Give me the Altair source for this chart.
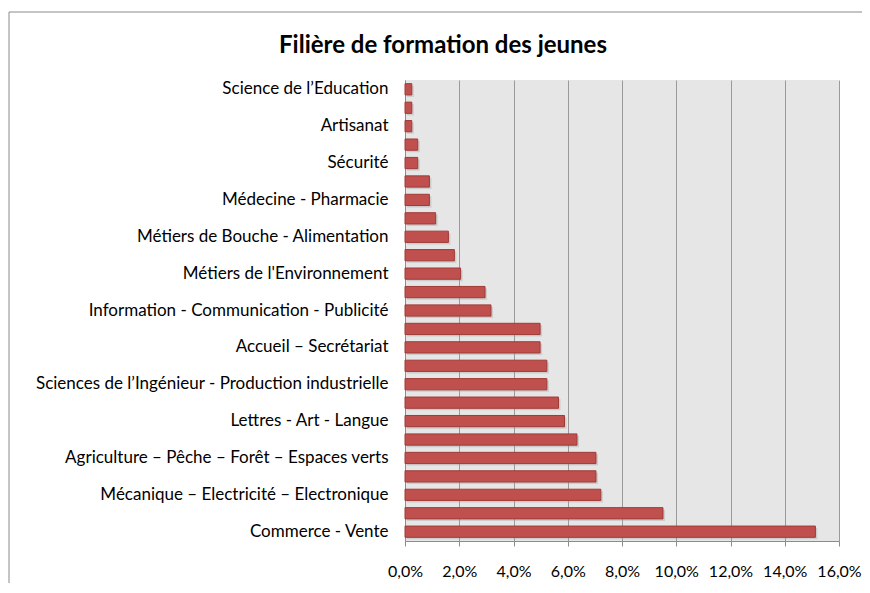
import json
import altair as alt
import pandas as pd

title_text = "Filière de formation des jeunes"
categories = [
    "Science de l’Education",
    "Droit - Sciences politiques",
    "Artisanat",
    "Transport - Logistique",
    "Sécurité",
    "Sport - Animation",
    "Médecine - Pharmacie",
    "Tourisme - Hôtellerie",
    "Métiers de Bouche - Alimentation",
    "BTP - Architecture",
    "Métiers de l'Environnement",
    "Santé - Social",
    "Information - Communication - Publicité",
    "Banque - Assurance",
    "Accueil – Secrétariat",
    "Informatique",
    "Sciences de l’Ingénieur - Production industrielle",
    "Gestion - Comptabilité",
    "Lettres - Art - Langue",
    "Economie - Droit",
    "Agriculture – Pêche – Forêt – Espaces verts",
    "Mode - Textile",
    "Mécanique – Electricité – Electronique",
    "Autres filières",
    "Commerce - Vente",
]
values = [0.25, 0.25, 0.25, 0.47, 0.47, 0.90, 0.90, 1.13, 1.60, 1.82, 2.05, 2.95,
          3.17, 4.98, 4.98, 5.23, 5.23, 5.66, 5.88, 6.34, 7.04, 7.04, 7.22, 9.51, 15.13]
shown_labels = categories[0::2]
x_ticks = [0, 2, 4, 6, 8, 10, 12, 14, 16]

df = pd.DataFrame({"cat": categories, "val": values})

FONT = "Lato"
label_expr = "indexof(" + json.dumps(shown_labels, ensure_ascii=False) + ", datum.value) >= 0 ? datum.value : ''"

y_enc = alt.Y(
    "cat:N",
    sort=categories,
    title=None,
    scale=alt.Scale(paddingInner=0.39, paddingOuter=0.2),
    axis=alt.Axis(
        labelExpr=label_expr,
        ticks=False,
        labelPadding=17,
        labelFont=FONT,
        labelFontSize=17,
        labelColor="#000000",
        domainColor="#8c8c8c",
        labelLimit=500,
        labelOverlap=False,
        grid=False,
    ),
)
x_enc = alt.X(
    "val:Q",
    title=None,
    scale=alt.Scale(domain=[0, 16], nice=False),
    axis=alt.Axis(
        values=x_ticks,
        labelExpr="replace(format(datum.value, '.1f'), '.', ',') + '%'",
        labelFont=FONT,
        labelFontSize=16,
        labelColor="#000000",
        labelOverlap=False,
        labelFlush=False,
        tickSize=5,
        tickColor="#8c8c8c",
        domainColor="#8c8c8c",
        labelPadding=17,
        grid=True,
        gridColor="#9a9a9a",
        gridWidth=1,
    ),
)

frame = alt.Chart(pd.DataFrame({"a": [0]})).mark_rect(
    fill="transparent", stroke="#8a8a8a", strokeWidth=1
).encode(
    x=alt.value(-396), x2=alt.value(500), y=alt.value(-68), y2=alt.value(620)
)

title = alt.Chart(pd.DataFrame({"t": [title_text]})).mark_text(
    font=FONT, fontSize=24, fontWeight="bold", color="#000000",
    align="center", baseline="alphabetic"
).encode(
    text="t:N", x=alt.value(38), y=alt.value(-27)
)

shadow = alt.Chart(df).mark_bar(
    color="#9a9a9a", opacity=0.35, xOffset=2, yOffset=2
).encode(x=x_enc, y=y_enc)

bars = alt.Chart(df).mark_bar(
    color="#c0504d", stroke="#9e3b38", strokeWidth=1
).encode(x=x_enc, y=y_enc)

chart = alt.layer(frame, title, shadow, bars).properties(
    width=434,
    height=461,
    autosize=alt.AutoSizeParams(type="none"),
    padding={"left": 397, "top": 72, "right": 23, "bottom": 42},
    background="#ffffff",
).configure_view(
    fill="#e6e6e6", stroke=None
)

chart.save("out.html", embed_options={"renderer": "svg", "actions": False})
